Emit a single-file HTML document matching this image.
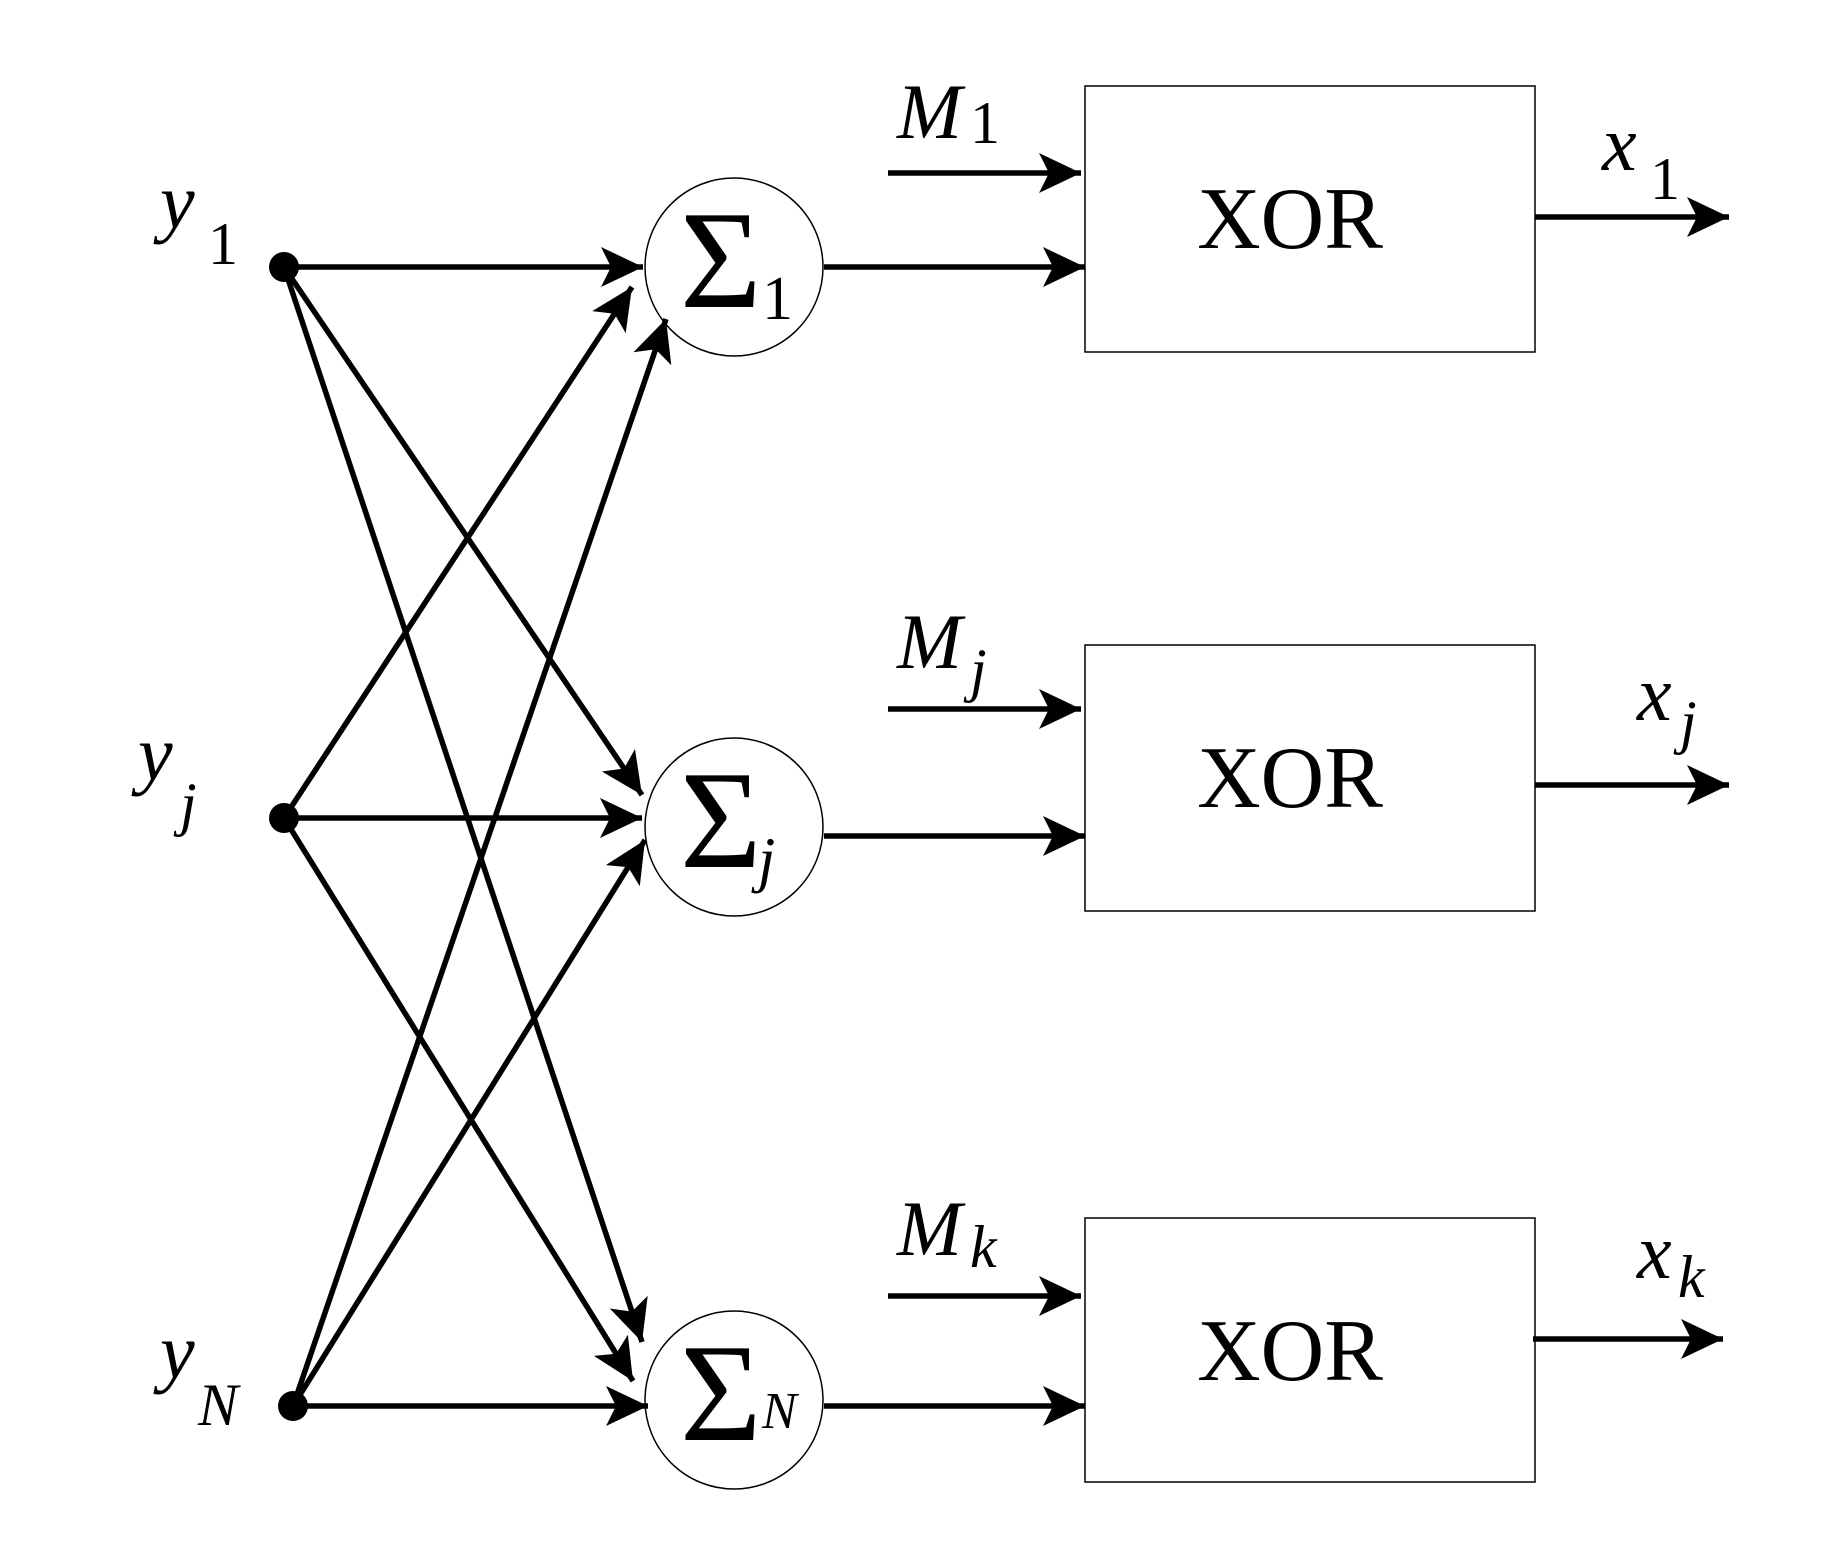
<!DOCTYPE html>
<html><head><meta charset="utf-8"><style>
html,body{margin:0;padding:0;background:#fff;}
svg{display:block;}
text{font-family:"Liberation Serif","Times New Roman",Times,serif;fill:#000;}
.it{font-style:italic;}
</style></head><body>
<svg width="1837" height="1546" viewBox="0 0 1837 1546" xmlns="http://www.w3.org/2000/svg" font-family="Liberation Serif, Times New Roman, serif">
<defs>
<marker id="a" markerUnits="userSpaceOnUse" markerWidth="44" markerHeight="44" refX="42" refY="21" orient="auto">
<path d="M0,1 L42,21 L0,41 L10,21 Z" fill="#000"/>
</marker>
</defs>
<g stroke="#000" stroke-width="5.5" fill="none" marker-end="url(#a)">
<line x1="284" y1="267" x2="643" y2="267"/>
<line x1="284" y1="267" x2="642" y2="795"/>
<line x1="284" y1="267" x2="642" y2="1342"/>
<line x1="284" y1="818" x2="632" y2="287"/>
<line x1="284" y1="818" x2="642" y2="818"/>
<line x1="284" y1="818" x2="633" y2="1381"/>
<line x1="293" y1="1406" x2="666" y2="319"/>
<line x1="293" y1="1406" x2="645" y2="840"/>
<line x1="293" y1="1406" x2="648" y2="1406"/>
<line x1="888" y1="173" x2="1081" y2="173"/>
<line x1="888" y1="709" x2="1081" y2="709"/>
<line x1="888" y1="1296" x2="1081" y2="1296"/>
<line x1="824" y1="267" x2="1085" y2="267"/>
<line x1="824" y1="836" x2="1085" y2="836"/>
<line x1="824" y1="1406" x2="1085" y2="1406"/>
<line x1="1535" y1="217" x2="1729" y2="217"/>
<line x1="1535" y1="785" x2="1729" y2="785"/>
<line x1="1533" y1="1339" x2="1723" y2="1339"/>
</g>
<g fill="#000">
<ellipse cx="284" cy="267" rx="15" ry="15"/>
<ellipse cx="284" cy="818" rx="15" ry="15"/>
<ellipse cx="293" cy="1406" rx="15" ry="15"/>
</g>
<g stroke="#000" stroke-width="1.5" fill="none">
<ellipse cx="734" cy="267" rx="89" ry="89"/>
<ellipse cx="734" cy="827" rx="89" ry="89"/>
<ellipse cx="734" cy="1400" rx="89" ry="89"/>
<rect x="1085" y="86" width="450" height="266"/>
<rect x="1085" y="645" width="450" height="266"/>
<rect x="1085" y="1218" width="450" height="264"/>
</g>
<g font-size="88" text-anchor="middle">
<text x="1290" y="248">XOR</text>
<text x="1290" y="807">XOR</text>
<text x="1290" y="1380">XOR</text>
</g>
<g font-size="140">
<text x="680" y="307">Σ</text>
<text x="680" y="867">Σ</text>
<text x="680" y="1440">Σ</text>
</g>
<text x="762" y="319" font-size="62">1</text>
<text x="758" y="880" font-size="62" class="it">j</text>
<text x="762" y="1428" font-size="52" class="it">N</text>
<g font-size="78" class="it">
<text x="160" y="228">y</text>
<text x="138" y="780">y</text>
<text x="160" y="1378">y</text>
<text x="897" y="138">M</text>
<text x="897" y="668">M</text>
<text x="897" y="1255">M</text>
<text x="1602" y="170">x</text>
<text x="1637" y="720">x</text>
<text x="1637" y="1278">x</text>
</g>
<g font-size="60">
<text x="208" y="264">1</text>
<text x="970" y="143">1</text>
<text x="1650" y="199">1</text>
</g>
<g font-size="60" class="it">
<text x="180" y="824">j</text>
<text x="198" y="1425">N</text>
<text x="970" y="690">j</text>
<text x="970" y="1267">k</text>
<text x="1680" y="742">j</text>
<text x="1678" y="1297">k</text>
</g>
</svg>
</body></html>
